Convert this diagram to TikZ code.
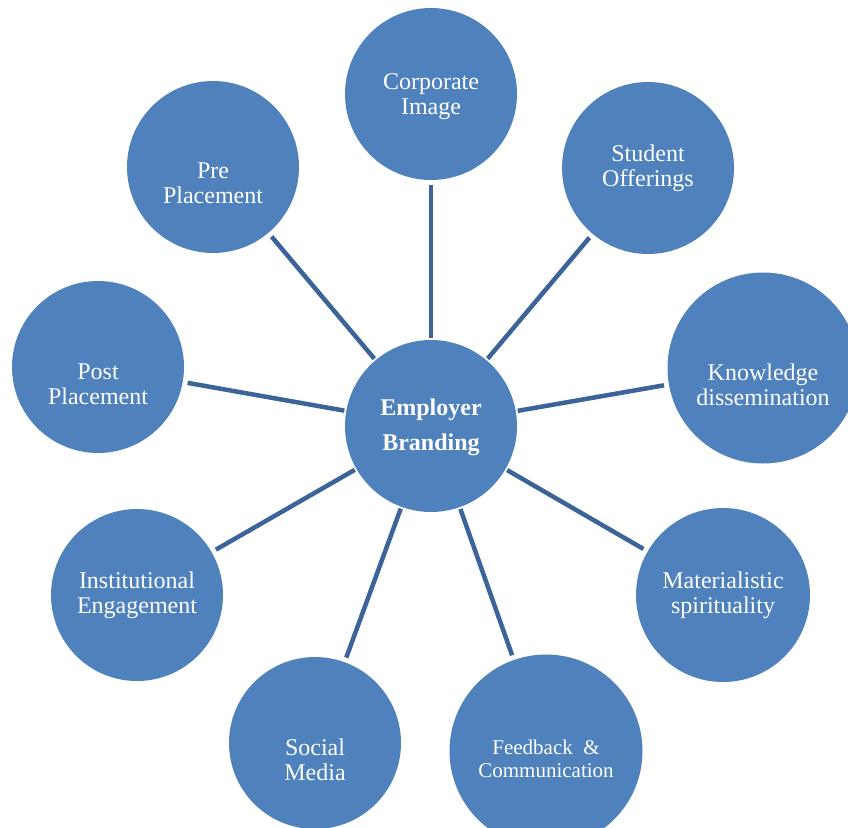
\documentclass[tikz,border=0pt]{standalone}
\usepackage{fontspec}
\setmainfont{Liberation Serif}
\usepackage{xcolor}

\definecolor{bubble}{HTML}{4F81BD}
\definecolor{spokecol}{HTML}{3C6499}

\begin{document}
\begin{tikzpicture}[x=1pt,y=-1pt,
    bubble/.style={circle,fill=bubble,inner sep=0pt,outer sep=0pt},
    caption/.style={text=white,align=center,inner sep=0pt,font=\fontsize{24}{25}\selectfont},
    spoke/.style={line width=4.5pt,spokecol,shorten <=2pt,shorten >=5pt}]

    % Taille de la figure
    \useasboundingbox (0,0) rectangle (848,827);
    \clip (0,0) rectangle (848,827);

    % Le cercle central
    \node[bubble,minimum size=172pt] (brand) at (431,426) {};
    \node[caption,font=\bfseries\fontsize{24}{35}\selectfont] (brandtxt) at ([yshift=-1pt]brand.center) {Employer\\Branding};

    % Les cercles autour
    \node[bubble,minimum size=172pt] (corp) at (431,94) {};
    \node[bubble,minimum size=172pt] (student) at (648,168) {};
    \node[bubble,minimum size=191pt] (know) at (763,368) {};
    \node[bubble,minimum size=174pt] (mat) at (723,595) {};
    \node[bubble,minimum size=193pt] (feed) at (546,751) {};
    \node[bubble,minimum size=172pt] (social) at (315,743) {};
    \node[bubble,minimum size=172pt] (inst) at (137,595) {};
    \node[bubble,minimum size=172pt] (post) at (98,367) {};
    \node[bubble,minimum size=172pt] (pre) at (213,167) {};

    % Les textes des cercles
    \node[caption] (corptxt) at ([yshift=-3pt]corp.center) {Corporate\\Image};
    \node[caption] (studenttxt) at (student.center) {Student\\Offerings};
    \node[caption] (knowtxt) at ([yshift=-17pt]know.center) {Knowledge\\dissemination};
    \node[caption] (mattxt) at (mat.center) {Materialistic\\spirituality};
    \node[caption,font=\fontsize{21}{23}\selectfont] (feedtxt) at ([yshift=-8pt]feed.center) {Feedback~~\&\\Communication};
    \node[caption] (socialtxt) at ([yshift=-17pt]social.center) {Social\\Media};
    \node[caption] (insttxt) at (inst.center) {Institutional\\Engagement};
    \node[caption] (posttxt) at ([yshift=-17pt]post.center) {Post\\Placement};
    \node[caption] (pretxt) at ([yshift=-16pt]pre.center) {Pre\\Placement};

    % Les rayons
    \draw[spoke] (brand) -- (corp);
    \draw[spoke] (brand) -- (student);
    \draw[spoke] (brand) -- (know);
    \draw[spoke] (brand) -- (mat);
    \draw[spoke] (brand) -- (feed);
    \draw[spoke] (brand) -- (social);
    \draw[spoke] (brand) -- (inst);
    \draw[spoke] (brand) -- (post);
    \draw[spoke] (brand) -- (pre);
\end{tikzpicture}
\end{document}
